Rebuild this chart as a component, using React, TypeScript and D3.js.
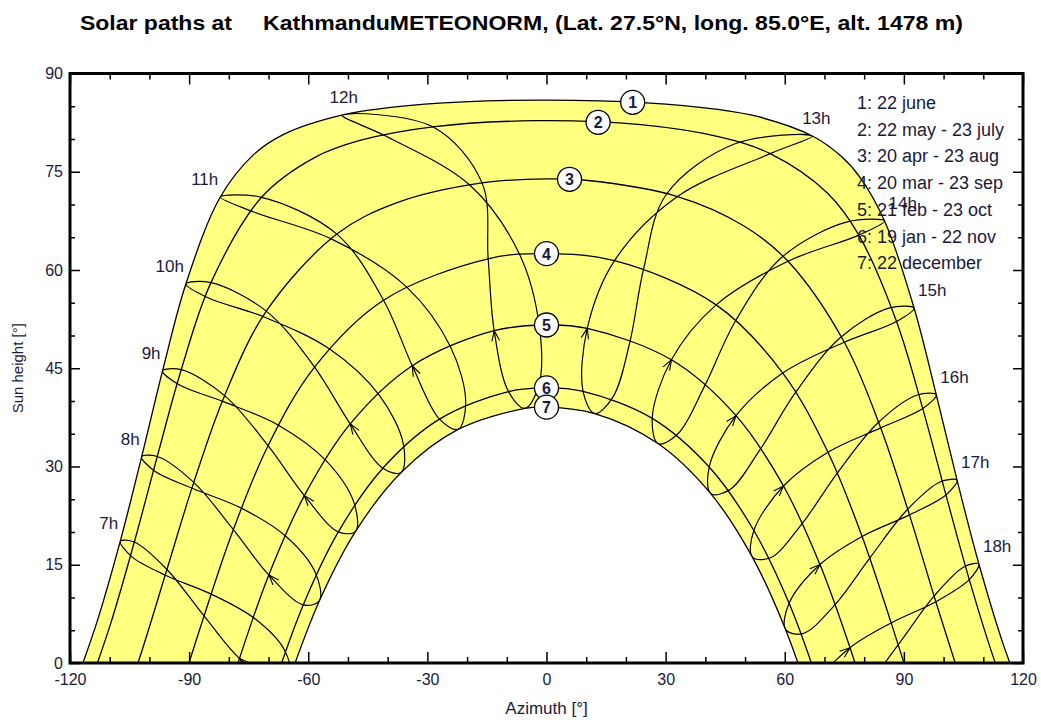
import * as d3 from "d3";
import { useEffect, useRef } from "react";

// sun paths of the 7 dates, [azimuth, sun height] in degrees, morning -> evening
const pathJune = [[-120.22, -5.76], [-113.28, 6.12], [-107.34, 18.6], [-101.96, 31.47], [-96.69, 44.59], [-90.82, 57.87], [-82.15, 71.14], [-73.69, 77.65], [-65.93, 80.78], [-51.56, 83.64], [-38.66, 84.86], [-20.85, 85.67], [0, 85.94], [25.17, 85.53], [42.52, 84.57], [53.59, 83.36], [66.95, 80.46], [74.3, 77.32], [79.04, 74.08], [85.14, 67.48], [92.57, 54.19], [98.16, 40.95], [103.41, 27.89], [108.9, 15.11], [115.07, 2.77], [122.37, -8.9]];
const pathMay = [[-116.92, -6.47], [-109.9, 5.74], [-103.8, 18.47], [-98.02, 31.53], [-91.98, 44.78], [-84.5, 58.07], [-71.76, 71.1], [-58.42, 77.16], [-46.76, 79.81], [-28.66, 81.86], [-2.99, 82.79], [23.74, 82.18], [43.53, 80.31], [56.33, 77.76], [70.72, 71.76], [78.66, 65.33], [88.15, 52.14], [94.76, 38.84], [100.59, 25.66], [106.47, 12.73], [112.91, 0.21], [120.47, -11.69]];
const pathApr = [[-109.56, -11.64], [-102.27, 1.15], [-95.59, 14.28], [-88.83, 27.57], [-81.07, 40.82], [-70.57, 53.72], [-52.8, 65.48], [-37.8, 70.25], [-16.24, 73.3], [0, 73.9], [9.82, 73.7], [33.0, 71.22], [49.53, 66.8], [60.82, 61.33], [75.0, 48.97], [84.17, 35.89], [91.41, 22.61], [98.05, 9.35], [104.88, -3.68]];
const pathMar = [[-93.2, -6.12], [-86.24, 7.18], [-78.86, 20.37], [-70.12, 33.18], [-58.41, 45.18], [-41.04, 55.39], [-14.69, 61.71], [0, 62.5], [17.13, 61.42], [42.73, 54.68], [59.51, 44.27], [70.88, 32.18], [79.48, 19.32], [86.8, 6.12], [93.76, -7.18]];
const pathFeb = [[-84.06, -12.43], [-77.32, 0.69], [-69.93, 13.45], [-60.97, 25.55], [-49.43, 36.5], [-33.8, 45.38], [-13.18, 50.74], [0, 51.6], [10.27, 51.08], [31.46, 46.29], [47.72, 37.76], [59.68, 27.02], [68.87, 15.03], [76.44, 2.33], [83.22, -10.76]];
const pathJan = [[-68.5, -3.18], [-61.26, 8.87], [-52.42, 20.02], [-41.22, 29.74], [-26.94, 37.23], [-9.57, 41.43], [0, 42.0], [9.2, 41.47], [26.62, 37.35], [40.97, 29.92], [52.22, 20.23], [61.1, 9.11], [68.36, -2.93]];
const pathDec = [[-64.56, -2.11], [-57.18, 9.52], [-48.08, 20.11], [-36.6, 29.09], [-22.26, 35.66], [-5.42, 38.87], [0, 39.06], [12.15, 38.08], [28.15, 33.47], [41.36, 25.85], [51.84, 16.17], [60.2, 5.13], [67.07, -6.8]];

// hour lines, one point per date:
// 22 dec, 19 jan, 21 feb, 20 mar, 20 apr, 22 may, 22 june, 23 july, 23 aug, 23 sep, 23 oct, 22 nov
const hour7 = [[-64.56, -2.11], [-68.5, -3.18], [-77.32, 0.69], [-86.24, 7.18], [-95.59, 14.28], [-103.8, 18.47], [-107.34, 18.6], [-104.48, 16.24], [-95.82, 13.36], [-84.45, 10.52], [-73.48, 6.78], [-66.04, 2.03]];
const hour8 = [[-57.18, 9.52], [-61.26, 8.87], [-69.93, 13.45], [-78.86, 20.37], [-88.83, 27.57], [-98.02, 31.53], [-101.96, 31.47], [-98.64, 29.27], [-89.07, 26.64], [-76.83, 23.64], [-65.44, 19.24], [-58.22, 13.8]];
const hour9 = [[-48.08, 20.11], [-52.42, 20.02], [-60.97, 25.55], [-70.12, 33.18], [-81.07, 40.82], [-91.98, 44.78], [-96.69, 44.59], [-92.63, 42.51], [-81.39, 39.9], [-67.52, 36.31], [-55.4, 30.82], [-48.49, 24.48]];
const hour10 = [[-36.6, 29.09], [-41.22, 29.74], [-49.43, 36.5], [-58.41, 45.18], [-70.57, 53.72], [-84.5, 58.07], [-90.82, 57.87], [-85.41, 55.8], [-71.09, 52.82], [-54.71, 47.97], [-42.08, 40.85], [-36.06, 33.46]];
const hour11 = [[-22.26, 35.66], [-26.94, 37.23], [-33.8, 45.38], [-41.04, 55.39], [-52.8, 65.48], [-71.76, 71.1], [-82.15, 71.14], [-73.87, 68.89], [-53.97, 64.68], [-35.33, 57.46], [-24.1, 48.17], [-20.34, 39.78]];
const hour12 = [[-5.42, 38.87], [-9.57, 41.43], [-13.18, 50.74], [-14.69, 61.71], [-16.24, 73.3], [-28.66, 81.86], [-51.56, 83.64], [-40.24, 80.37], [-19.13, 72.86], [-6.74, 62.34], [-1.76, 51.19], [-1.94, 42.38]];
const hour13 = [[12.15, 38.08], [9.2, 41.47], [10.27, 51.08], [17.13, 61.42], [33.0, 71.22], [56.33, 77.76], [66.95, 80.46], [47.48, 79.27], [30.12, 71.49], [24.48, 60.23], [20.97, 48.93], [16.76, 40.64]];
const hour14 = [[28.15, 33.47], [26.62, 37.35], [31.46, 46.29], [42.73, 54.68], [60.82, 61.33], [78.66, 65.33], [85.14, 67.48], [75.74, 67.35], [59.27, 61.94], [47.67, 52.3], [39.71, 42.16], [33.12, 35.0]];
const hour15 = [[41.36, 25.85], [40.97, 29.92], [47.72, 37.76], [59.51, 44.27], [75.0, 48.97], [88.15, 52.14], [92.57, 54.19], [86.41, 54.21], [74.03, 49.69], [62.76, 41.34], [53.65, 32.45], [46.2, 26.47]];
const hour16 = [[51.84, 16.17], [52.22, 20.23], [59.68, 27.02], [70.88, 32.18], [84.17, 35.89], [94.76, 38.84], [98.16, 40.95], [93.39, 40.91], [83.44, 36.64], [73.23, 28.99], [64.09, 21.05], [56.41, 16.07]];
const hour17 = [[60.2, 5.13], [61.1, 9.11], [68.87, 15.03], [79.48, 19.32], [91.41, 22.61], [100.59, 25.66], [103.41, 27.89], [99.34, 27.7], [90.78, 23.36], [81.41, 16.02], [72.36, 8.69], [64.56, 4.49]];
const hour18 = [[67.07, -6.8], [68.36, -2.93], [76.44, 2.33], [86.8, 6.12], [98.05, 9.35], [106.47, 12.73], [108.9, 15.11], [105.19, 14.7], [97.45, 10.1], [88.56, 2.77], [79.44, -4.21], [71.38, -7.85]];

const hourValues = [7, 8, 9, 10, 11, 12, 13, 14, 15, 16, 17, 18];

// numbered markers on the date curves
const markerAz = [21.7, 13.0, 5.8, 0, 0, 0, 0];
const markerAlt = [85.6, 82.55, 73.85, 62.5, 51.6, 42.0, 39.06];

const legendLabels = [
  "1: 22 june",
  "2: 22 may - 23 july",
  "3: 20 apr - 23 aug",
  "4: 20 mar - 23 sep",
  "5: 21 feb - 23 oct",
  "6: 19 jan - 22 nov",
  "7: 22 december",
];

const xMajorTicks = [-120, -90, -60, -30, 0, 30, 60, 90, 120];
const xMinorTicks = [-110, -100, -80, -70, -50, -40, -20, -10, 10, 20, 40, 50, 70, 80, 100, 110];
const yMajorTicks = [0, 15, 30, 45, 60, 75, 90];
const yMinorTicks = [5, 10, 20, 25, 35, 40, 50, 55, 65, 70, 80, 85];

const SolarPaths = () => {
  const svgRef = useRef(null);

  useEffect(() => {
    const w = 1041;
    const h = 720;
    const left = 70;
    const right = 1023;
    const top = 73.5;
    const bottom = 663;
    const font = "'Liberation Sans', Arial, sans-serif";

    const svg = d3.select(svgRef.current).attr("width", w).attr("height", h);
    svg.selectAll("*").remove();

    const xScale = d3.scaleLinear().domain([-120, 120]).range([left, right]);
    const yScale = d3.scaleLinear().domain([0, 90]).range([bottom, top]);

    const path = d3
      .line()
      .x((d) => xScale(d[0]))
      .y((d) => yScale(d[1]))
      .curve(d3.curveCatmullRom.alpha(0.5));
    const loop = d3
      .line()
      .x((d) => xScale(d[0]))
      .y((d) => yScale(d[1]))
      .curve(d3.curveCatmullRomClosed.alpha(0.5));

    const datePaths = [pathJune, pathMay, pathApr, pathMar, pathFeb, pathJan, pathDec];
    const hourLines = [hour7, hour8, hour9, hour10, hour11, hour12, hour13, hour14, hour15, hour16, hour17, hour18];

    // yellow band between 22 june and 22 december
    const band = path(pathJune) + "L" + path(pathDec.slice().reverse()).slice(1) + "Z";

    const defs = svg.append("defs");
    defs
      .append("clipPath")
      .attr("id", "plot-clip")
      .append("rect")
      .attr("x", left)
      .attr("y", top)
      .attr("width", right - left)
      .attr("height", bottom - top);
    defs.append("clipPath").attr("id", "band-clip").append("path").attr("d", band);

    const plot = svg.append("g").attr("clip-path", "url(#plot-clip)");
    plot.append("path").attr("d", band).attr("fill", "#ffff80");

    // hour lines
    const inner = plot.append("g").attr("clip-path", "url(#band-clip)");
    hourLines.forEach((pts) => {
      inner
        .append("path")
        .attr("d", loop(pts))
        .attr("fill", "none")
        .attr("stroke", "#000")
        .attr("stroke-width", 1.2);
    });

    // small arrows at 21 feb, pointing towards spring
    hourLines.forEach((pts) => {
      const x1 = xScale(pts[1][0]);
      const y1 = yScale(pts[1][1]);
      const x2 = xScale(pts[2][0]);
      const y2 = yScale(pts[2][1]);
      const x3 = xScale(pts[3][0]);
      const y3 = yScale(pts[3][1]);
      const a = Math.atan2(y3 - y1, x3 - x1);
      const len = 11;
      const lx = x2 - len * Math.cos(a + 0.35);
      const ly = y2 - len * Math.sin(a + 0.35);
      const rx = x2 - len * Math.cos(a - 0.35);
      const ry = y2 - len * Math.sin(a - 0.35);
      plot
        .append("path")
        .attr("d", `M${lx},${ly}L${x2},${y2}L${rx},${ry}`)
        .attr("fill", "none")
        .attr("stroke", "#000")
        .attr("stroke-width", 1.1);
    });

    // date curves
    datePaths.forEach((pts) => {
      plot
        .append("path")
        .attr("d", path(pts))
        .attr("fill", "none")
        .attr("stroke", "#000")
        .attr("stroke-width", 1.3);
    });

    // numbered markers
    markerAz.forEach((az, i) => {
      const cx = xScale(az);
      const cy = yScale(markerAlt[i]);
      svg
        .append("circle")
        .attr("cx", cx)
        .attr("cy", cy)
        .attr("r", 12)
        .attr("fill", "#fff")
        .attr("stroke", "#000")
        .attr("stroke-width", 1.3);
      svg
        .append("text")
        .attr("x", cx)
        .attr("y", cy + 6)
        .attr("text-anchor", "middle")
        .attr("font-family", font)
        .attr("font-size", 16)
        .attr("font-weight", "bold")
        .attr("fill", "#1a1a40")
        .text(String(i + 1));
    });

    // hour labels at the 22 june end of each hour line
    hourLines.forEach((pts, i) => {
      const hr = hourValues[i];
      const px = xScale(pts[6][0]);
      const py = yScale(pts[6][1]);
      let anchor = "start";
      let dx = 4;
      if (hr < 12) {
        anchor = "end";
        dx = -2;
      } else if (hr === 12) {
        anchor = "middle";
        dx = 2;
      } else if (hr === 13) {
        anchor = "middle";
        dx = 4;
      }
      svg
        .append("text")
        .attr("x", px + dx)
        .attr("y", py - 12)
        .attr("text-anchor", anchor)
        .attr("font-family", font)
        .attr("font-size", 17)
        .attr("fill", "#1a1a3a")
        .text(hr + "h");
    });

    // legend
    legendLabels.forEach((label, i) => {
      svg
        .append("text")
        .attr("x", 857)
        .attr("y", 109 + i * 26.7)
        .attr("font-family", font)
        .attr("font-size", 18)
        .attr("fill", "#1a1a3a")
        .text(label);
    });

    // axes, ticks pointing inwards on all four sides
    const styleAxis = (g, size) => {
      g.select(".domain").remove();
      g.attr("font-family", font).attr("font-size", size);
      g.selectAll("line").attr("stroke", "#000").attr("stroke-width", 1.5);
      g.selectAll("text").attr("fill", "#1a1a3a");
    };
    const fmt = (d) => String(d);

    svg
      .append("g")
      .attr("transform", `translate(0,${bottom})`)
      .call(d3.axisBottom(xScale).tickValues(xMajorTicks).tickSize(-11).tickPadding(11).tickFormat(fmt))
      .call((g) => styleAxis(g, 16));
    svg
      .append("g")
      .attr("transform", `translate(0,${bottom})`)
      .call(d3.axisBottom(xScale).tickValues(xMinorTicks).tickSize(-6).tickFormat(() => ""))
      .call((g) => styleAxis(g, 16));
    svg
      .append("g")
      .attr("transform", `translate(0,${top})`)
      .call(d3.axisTop(xScale).tickValues(xMajorTicks).tickSize(-11).tickFormat(() => ""))
      .call((g) => styleAxis(g, 16));
    svg
      .append("g")
      .attr("transform", `translate(0,${top})`)
      .call(d3.axisTop(xScale).tickValues(xMinorTicks).tickSize(-6).tickFormat(() => ""))
      .call((g) => styleAxis(g, 16));
    svg
      .append("g")
      .attr("transform", `translate(${left},0)`)
      .call(d3.axisLeft(yScale).tickValues(yMajorTicks).tickSize(-10).tickPadding(7).tickFormat(fmt))
      .call((g) => styleAxis(g, 16));
    svg
      .append("g")
      .attr("transform", `translate(${left},0)`)
      .call(d3.axisLeft(yScale).tickValues(yMinorTicks).tickSize(-5).tickFormat(() => ""))
      .call((g) => styleAxis(g, 16));
    svg
      .append("g")
      .attr("transform", `translate(${right},0)`)
      .call(d3.axisRight(yScale).tickValues(yMajorTicks).tickSize(-10).tickFormat(() => ""))
      .call((g) => styleAxis(g, 16));
    svg
      .append("g")
      .attr("transform", `translate(${right},0)`)
      .call(d3.axisRight(yScale).tickValues(yMinorTicks).tickSize(-5).tickFormat(() => ""))
      .call((g) => styleAxis(g, 16));

    // frame
    svg
      .append("rect")
      .attr("x", left)
      .attr("y", top)
      .attr("width", right - left)
      .attr("height", bottom - top)
      .attr("fill", "none")
      .attr("stroke", "#000")
      .attr("stroke-width", 3);

    // axis titles
    svg
      .append("text")
      .attr("x", (left + right) / 2)
      .attr("y", 714)
      .attr("text-anchor", "middle")
      .attr("font-family", font)
      .attr("font-size", 17)
      .attr("fill", "#1a1a3a")
      .text("Azimuth [°]");
    svg
      .append("text")
      .attr("transform", `translate(23,${(top + bottom) / 2}) rotate(-90)`)
      .attr("text-anchor", "middle")
      .attr("font-family", font)
      .attr("font-size", 15)
      .attr("fill", "#1a1a3a")
      .text("Sun height [°]");

    // title
    svg
      .append("text")
      .attr("x", 80)
      .attr("y", 30)
      .attr("font-family", font)
      .attr("font-size", 21)
      .attr("font-weight", "bold")
      .attr("textLength", 152)
      .attr("lengthAdjust", "spacingAndGlyphs")
      .text("Solar paths at");
    svg
      .append("text")
      .attr("x", 263)
      .attr("y", 30)
      .attr("font-family", font)
      .attr("font-size", 21)
      .attr("font-weight", "bold")
      .attr("textLength", 700)
      .attr("lengthAdjust", "spacingAndGlyphs")
      .text("KathmanduMETEONORM, (Lat. 27.5°N, long. 85.0°E, alt. 1478 m)");
  }, []);

  return (
    <svg
      ref={svgRef}
      style={{ position: "absolute", left: 0, top: 0, background: "#fff" }}
    ></svg>
  );
};

export default function App() {
  return <SolarPaths />;
}
